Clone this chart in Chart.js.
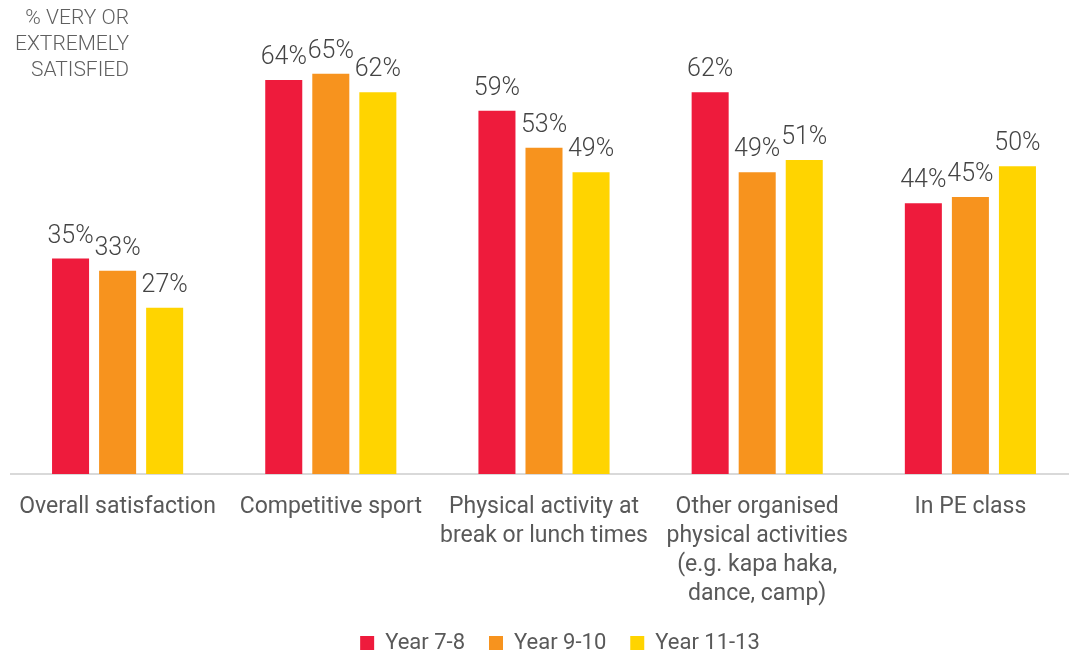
<!DOCTYPE html>
<html>
<head>
<meta charset="utf-8">
<script src="https://cdn.jsdelivr.net/npm/chart.js@4.4.1/dist/chart.umd.min.js"></script>
<style>
  body { margin: 0; overflow: hidden; background: #fff; font-family: Roboto, sans-serif; }
  .wrap { position: relative; width: 1109px; height: 664px; }
  .ytitle {
    position: absolute; left: 0; top: 4px; width: 129px;
    text-align: right; font-size: 21px; line-height: 26px;
    color: #5f5f5f; font-weight: 300;
  }
</style>
</head>
<body>
<div class="wrap">
  <canvas id="satisfactionChart"></canvas>
  <div class="ytitle">% VERY OR<br>EXTREMELY<br>SATISFIED</div>
</div>
<script>
const categories = [
    'Overall satisfaction',
    'Competitive sport',
    ['Physical activity at', 'break or lunch times'],
    ['Other organised', 'physical activities', '(e.g. kapa haka,', 'dance, camp)'],
    'In PE class'
];
const year7to8 = [35, 64, 59, 62, 44];
const year9to10 = [33, 65, 53, 49, 45];
const year11to13 = [27, 62, 49, 51, 50];

// value labels above each bar
const barLabels = {
    id: 'barLabels',
    afterDatasetsDraw(chart) {
        const ctx = chart.ctx;
        ctx.save();
        ctx.font = '300 25px Roboto';
        ctx.fillStyle = '#444';
        ctx.textAlign = 'center';
        ctx.textBaseline = 'alphabetic';
        chart.data.datasets.forEach((ds, i) => {
            chart.getDatasetMeta(i).data.forEach((bar, j) => {
                ctx.fillText(ds.data[j] + '%', bar.x, bar.y - 16);
            });
        });
        ctx.restore();
    }
};

const ctxSat = document.getElementById('satisfactionChart').getContext('2d');
const satisfactionChart = new Chart(ctxSat, {
    type: 'bar',
    data: {
        labels: categories,
        datasets: [{
            label: 'Year 7-8',
            data: year7to8,
            backgroundColor: '#ee1b3c'
        }, {
            label: 'Year 9-10',
            data: year9to10,
            backgroundColor: '#f7931e'
        }, {
            label: 'Year 11-13',
            data: year11to13,
            backgroundColor: '#ffd400'
        }]
    },
    options: {
        responsive: true,
        maintainAspectRatio: false,
        animation: false,
        categoryPercentage: 0.662,
        barPercentage: 0.787,
        layout: { padding: { left: 11, right: 0, top: 0, bottom: 0 } },
        plugins: {
            tooltip: { enabled: false },
            legend: {
                position: 'bottom',
                labels: {
                    boxWidth: 14,
                    boxHeight: 14,
                    padding: 24,
                    color: '#595959',
                    font: { family: 'Roboto', size: 22 }
                }
            }
        },
        scales: {
            x: {
                grid: { display: false },
                border: { display: true, color: '#d9d9d9', width: 2 },
                ticks: {
                    padding: 11,
                    color: '#595959',
                    maxRotation: 0,
                    autoSkip: false,
                    font: { family: 'Roboto', size: 23, lineHeight: 1.26 }
                },
                afterFit(scale) { scale.height = 134; }
            },
            y: {
                display: false,
                min: 0,
                max: 77
            },
            // blank right axis, only there to keep the legend centred like the original
            spacer: {
                position: 'right',
                grid: { display: false },
                border: { display: false },
                ticks: { display: false },
                afterFit(scale) { scale.width = 32; }
            }
        }
    },
    plugins: [barLabels]
});
</script>
</body>
</html>
